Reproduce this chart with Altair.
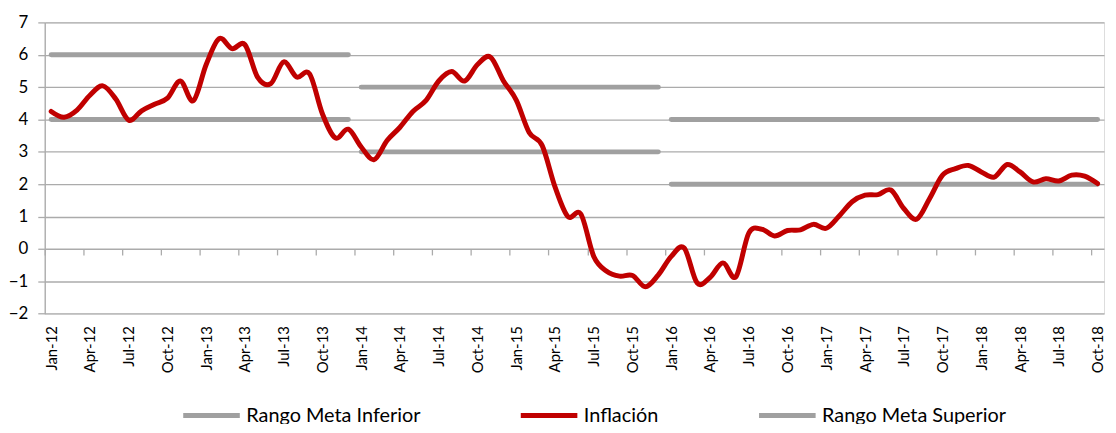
import altair as alt
import pandas as pd

# ---------------- data ----------------
month_names = ["Jan", "Feb", "Mar", "Apr", "May", "Jun", "Jul", "Aug", "Sep", "Oct", "Nov", "Dec"]
years = ["12", "13", "14", "15", "16", "17", "18"]
months = [f"{m}-{y}" for y in years for m in month_names][:82]

inflacion = [
    4.25, 4.07, 4.29, 4.75, 5.04, 4.63, 3.98, 4.27, 4.47, 4.66, 5.19, 4.58,   # 2012
    5.70, 6.50, 6.19, 6.31, 5.29, 5.11, 5.78, 5.31, 5.41, 4.17, 3.43, 3.70,   # 2013
    3.15, 2.76, 3.35, 3.76, 4.25, 4.58, 5.19, 5.48, 5.19, 5.70, 5.93, 5.20,   # 2014
    4.60, 3.60, 3.20, 1.92, 1.00, 1.08, -0.23, -0.69, -0.84, -0.82, -1.17, -0.80,  # 2015
    -0.23, 0.03, -1.05, -0.88, -0.43, -0.86, 0.49, 0.61, 0.40, 0.57, 0.59, 0.76,  # 2016
    0.64, 1.02, 1.46, 1.66, 1.68, 1.82, 1.25, 0.92, 1.56, 2.28, 2.48, 2.58,   # 2017
    2.38, 2.22, 2.61, 2.38, 2.07, 2.17, 2.10, 2.28, 2.25, 2.02,               # 2018
]

target_periods = ["2012-2013", "2014-2015", "2016-2018"]
target_start = ["Jan-12", "Jan-14", "Jan-16"]
target_end = ["Dec-13", "Dec-15", "Oct-18"]
meta_inferior = [4, 3, 2]
meta_superior = [6, 5, 4]

S_INF = "Rango Meta Inferior"
S_INFL = "Inflación"
S_SUP = "Rango Meta Superior"
series_order = [S_INF, S_INFL, S_SUP]
series_colors = ["#A0A0A0", "#C00000", "#A0A0A0"]

# ---------------- tables ----------------
infl_df = pd.DataFrame({
    "idx": list(range(len(months))),
    "mes": months,
    "valor": inflacion,
    "serie": S_INFL,
})

rows = []
for p, s, e, lo, hi in zip(target_periods, target_start, target_end, meta_inferior, meta_superior):
    for m in (s, e):
        i = months.index(m)
        rows.append({"idx": i, "valor": lo, "serie": S_INF, "seg": S_INF + p})
        rows.append({"idx": i, "valor": hi, "serie": S_SUP, "seg": S_SUP + p})
target_df = pd.DataFrame(rows)

# ---------------- layout ----------------
W = 1067
H = 293.4
FONT = "Lato"
GRID = "#ABABAB"

y_min, y_max = -2, 7
x_scale = alt.Scale(domain=[-0.5, len(months) - 0.5], nice=False, zero=False)
y_scale = alt.Scale(domain=[y_min, y_max], nice=False, zero=False)

label_expr = "[" + ",".join(f"'{m}'" for m in months) + "][datum.value]"

color = alt.Color(
    "serie:N",
    scale=alt.Scale(domain=series_order, range=series_colors),
    legend=alt.Legend(
        title=None,
        orient="none",
        legendX=137,
        legendY=365,
        direction="horizontal",
        symbolType="stroke",
        symbolSize=3249,
        symbolStrokeWidth=5,
        labelFont=FONT,
        labelFontSize=20,
        labelColor="#000000",
        labelOffset=4,
        columnPadding=90,
        padding=0,
        labelLimit=400,
    ),
)

y_enc = alt.Y(
    "valor:Q",
    scale=y_scale,
    axis=alt.Axis(
        title=None,
        values=list(range(y_min, y_max + 1)),
        grid=True,
        gridColor=GRID,
        gridWidth=1.3,
        domain=True,
        domainColor=GRID,
        domainWidth=1.3,
        ticks=True,
        tickSize=7,
        tickColor=GRID,
        tickWidth=1.3,
        labelPadding=10,
        labelFont=FONT,
        labelFontSize=17,
        labelColor="#000000",
    ),
)

# target lines carry the tick axis (ticks at the 0 line, between quarters)
tick_axis = alt.Axis(
    title=None,
    orient="bottom",
    values=[-0.5 + 3 * k for k in range(28)],
    labels=False,
    grid=False,
    domain=False,
    ticks=True,
    tickSize=6,
    tickColor=GRID,
    tickWidth=1.3,
    offset=-(H * (0 - y_min) / (y_max - y_min)),
)

label_axis = alt.Axis(
    title=None,
    orient="bottom",
    values=list(range(0, len(months), 3)),
    labelExpr=label_expr,
    labelAngle=270,
    labelFlush=False,
    labelOverlap=False,
    labelPadding=12,
    labelFont=FONT,
    labelFontSize=15,
    labelColor="#000000",
    ticks=False,
    tickSize=0,
    grid=False,
    domain=False,
)

targets = alt.Chart(target_df).mark_line(strokeWidth=5, strokeCap="round").encode(
    x=alt.X("idx:Q", scale=x_scale, axis=tick_axis),
    y=y_enc,
    color=color,
    detail="seg:N",
)

infl = alt.Chart(infl_df).mark_line(
    strokeWidth=5, interpolate="cardinal", strokeCap="round", strokeJoin="round"
).encode(
    x=alt.X("idx:Q", scale=x_scale, axis=label_axis),
    y=y_enc,
    color=color,
)

chart = (
    alt.layer(targets, infl)
    .resolve_axis(x="independent")
    .properties(
        width=W,
        height=H,
        autosize=alt.AutoSizeParams(type="none"),
        padding={"left": 37, "top": 13, "right": 4, "bottom": 110},
    )
    .configure_view(stroke=None)
    .configure(font=FONT)
)

chart.save("out.html", embed_options={"renderer": "svg", "actions": False})
